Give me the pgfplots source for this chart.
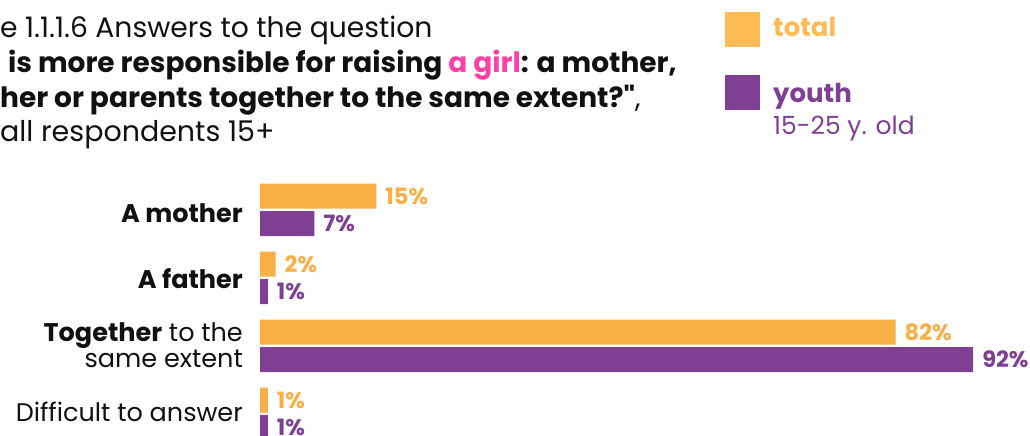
\documentclass[border=0pt]{standalone}
\usepackage{pgfplots}
\pgfplotsset{compat=1.18}
\usepackage{fontspec}
\setmainfont{Poppins}
\newfontfamily\geo{Poppins}
\newfontfamily\geoq{Poppins}[Ligatures=TeXOff]
\definecolor{ctotal}{HTML}{F8AF45}
\definecolor{ctotalL}{HTML}{FDBB55}
\definecolor{cyouth}{HTML}{7F3F92}
\definecolor{cpink}{HTML}{FF40A8}
\definecolor{ctext}{HTML}{111111}
\begin{document}
\begin{tikzpicture}[x=1pt,y=1pt]
\useasboundingbox (0,0) rectangle (1030,436);
\clip (0,0) rectangle (1030,436);
\begin{axis}[at={(260pt,0pt)}, anchor=south west, scale only axis,
  width=770pt, height=436pt, xmin=0, xmax=99.35, ymin=-0.324, ymax=6.088,
  axis lines=none, xbar, bar width=25pt, clip=false,
  /pgf/number format/assume math mode=true,
  point meta=x,
  nodes near coords={\pgfmathprintnumber{\pgfplotspointmeta}\%},
  nodes near coords style={anchor=west, inner sep=0pt, xshift=9pt,
    font=\geo\bfseries\fontsize{22.5}{22.5}\selectfont}]
\addplot[fill=ctotal, draw=none, bar shift=13.75pt,
  nodes near coords style={text=ctotal}] coordinates {(15,3) (2,2) (82,1) (1,0)};
\addplot[fill=cyouth, draw=none, bar shift=-13.75pt,
  nodes near coords style={text=cyouth}] coordinates {(7,3) (1,2) (92,1) (1,0)};
\end{axis}
% title
\begin{scope}[every node/.style={inner sep=0pt, anchor=base west, text=ctext}]
\node[font=\geo\fontsize{28.2}{28.2}\selectfont] at (0,398) {e 1.1.1.6 Answers to the question};
\node[font=\geo\fontsize{28}{28}\selectfont\bfseries] at (8,363) {is more responsible for raising \textcolor{cpink}{a girl}: a mother,};
\node[font=\geoq\fontsize{28}{28}\selectfont] at (0,328) {\textbf{her or parents together to the same extent?"},};
\node[font=\geo\fontsize{28.5}{28.5}\selectfont] at (0,294) {all respondents 15+};
\end{scope}
% legend
\fill[ctotalL] (725,389) rectangle (760,424);
\fill[cyouth] (725,326) rectangle (760,361);
\begin{scope}[every node/.style={inner sep=0pt, anchor=base west}]
\node[font=\geo\bfseries\fontsize{26}{26}\selectfont, text=ctotalL] at (773,399) {total};
\node[font=\geo\bfseries\fontsize{26}{26}\selectfont, text=cyouth] at (773,333) {youth};
\node[font=\geo\fontsize{25}{25}\selectfont, text=cyouth] at (773,301) {15-25 y. old};
\end{scope}
% category labels
\begin{scope}[every node/.style={inner sep=0pt, anchor=base east, text=ctext, font=\geo\fontsize{25.5}{25.5}\selectfont}]
\node at (243,213) {\textbf{A mother}};
\node at (243,147) {\textbf{A father}};
\node at (243,94) {\textbf{Together} to the};
\node at (243,68) {same extent};
\node at (243,14) {Difficult to answer};
\end{scope}
\end{tikzpicture}
\end{document}
